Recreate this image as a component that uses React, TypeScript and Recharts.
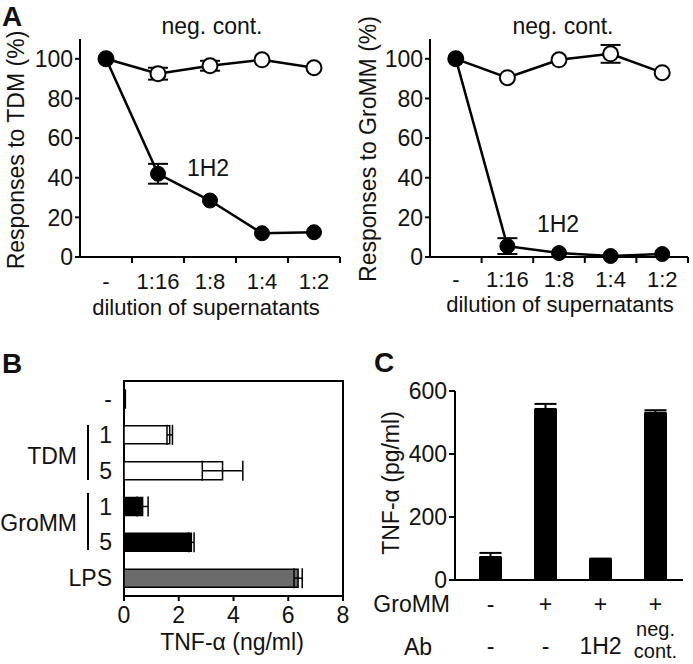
import React from "react";
import {
  Bar,
  BarChart,
  Cell,
  ErrorBar,
  Line,
  LineChart,
  ReferenceArea,
  XAxis,
  YAxis,
} from "recharts";

// A: dilution series (responses in % of control)
const dilutions = ["-", "1:16", "1:8", "1:4", "1:2"];
const tdm1H2 = [100, 42, 28.5, 12, 12.5];
const tdm1H2Err = [0, 5, 0, 0, 0];
const tdmNeg = [100, 92.5, 96.5, 99.5, 95.5];
const tdmNegErr = [0, 3, 2.5, 0, 0];
const gro1H2 = [100, 5.5, 2, 0.5, 1.5];
const gro1H2Err = [0, 4, 0, 0, 0];
const groNeg = [100, 90.5, 99.5, 102.5, 93];
const groNegErr = [0, 0, 0, 4.5, 0];
const responseTicks = [0, 20, 40, 60, 80, 100];

// B: TNF-a (ng/ml) per stimulus
const stimRows = ["-", "TDM 1", "TDM 5", "GroMM 1", "GroMM 5", "LPS"];
const stimTickLabels = ["-", "1", "5", "1", "5", "LPS"];
const stimTnf = [0.05, 1.67, 3.6, 0.68, 2.46, 6.36];
const stimTnfErr = [0, 0.1, 0.74, 0.2, 0.1, 0.15];
const stimFill = ["#000", "#fff", "#fff", "#000", "#000", "#6b6b6b"];
const tnfNgTicks = [0, 2, 4, 6, 8];

// C: TNF-a (pg/ml) with antibody
const groMMSigns = ["-", "+", "+", "+"];
const abLabels = ["-", "-", "1H2", "neg. cont."];
const tnfPg = [73, 543, 66, 531];
const tnfPgErr = [13, 16, 2, 8];
const tnfPgTicks = [0, 200, 400, 600];

const FONT = '"Liberation Sans", Arial, Helvetica, sans-serif';
const INK = "#111";
const tickText = { fontSize: 23, fill: INK, fontFamily: FONT };
const axisLine = { stroke: "#000", strokeWidth: 2 };

const tdmData = dilutions.map((d, i) => ({
  x: i + 0.5,
  h2: tdm1H2[i],
  h2Err: tdm1H2Err[i],
  neg: tdmNeg[i],
  negErr: tdmNegErr[i],
}));
const groData = dilutions.map((d, i) => ({
  x: i + 0.5,
  h2: gro1H2[i],
  h2Err: gro1H2Err[i],
  neg: groNeg[i],
  negErr: groNegErr[i],
}));
const stimData = stimRows.map((r, i) => ({
  row: r,
  tnf: stimTnf[i],
  err: stimTnfErr[i],
}));
const abData = abLabels.map((a, i) => ({
  key: `${groMMSigns[i]}|${a}`,
  tnf: tnfPg[i],
  err: [0, tnfPgErr[i]],
}));

function DilutionTick(props: any) {
  const { x, y, payload, band, dy } = props;
  return (
    <text x={x - band / 2} y={y + dy} textAnchor="middle" {...tickText} fontSize={22}>
      {dilutions[payload.value - 1]}
    </text>
  );
}

function AbTick(props: any) {
  const { x, y, index } = props;
  const ab = abLabels[index];
  return (
    <g>
      <text x={x} y={y + 32} textAnchor="middle" {...tickText}>
        {groMMSigns[index]}
      </text>
      {ab === "neg. cont." ? (
        <>
          <text x={x} y={y + 56} textAnchor="middle" {...tickText} fontSize={20}>neg.</text>
          <text x={x} y={y + 78} textAnchor="middle" {...tickText} fontSize={20}>cont.</text>
        </>
      ) : (
        <text x={x} y={y + 74} textAnchor="middle" {...tickText}>{ab}</text>
      )}
    </g>
  );
}

function DilutionChart({ data, width, left, dy }: { data: any[]; width: number; left: number; dy: number }) {
  const plotW = width - left - 5;
  return (
    <LineChart width={width} height={320} data={data} margin={{ top: 39, right: 5, bottom: 0, left: 0 }}>
      <XAxis
        type="number"
        dataKey="x"
        domain={[0, 5]}
        ticks={[1, 2, 3, 4, 5]}
        interval={0}
        height={63}
        axisLine={axisLine}
        tickLine={axisLine}
        tickSize={6}
        tickMargin={0}
        tick={(p: any) => <DilutionTick {...p} band={plotW / 5} dy={dy} />}
      />
      <YAxis
        type="number"
        domain={[0, 110]}
        ticks={responseTicks}
        interval={0}
        width={left}
        axisLine={axisLine}
        tickLine={axisLine}
        tickSize={5}
        tickMargin={2}
        tick={tickText}
      />
      <Line
        dataKey="neg"
        stroke="#000"
        strokeWidth={2.5}
        dot={{ r: 7.5, fill: "#fff", stroke: "#000", strokeWidth: 2 }}
        isAnimationActive={false}
      >
        <ErrorBar dataKey="negErr" direction="y" width={10} stroke="#000" strokeWidth={2} />
      </Line>
      <Line
        dataKey="h2"
        stroke="#000"
        strokeWidth={2.5}
        dot={{ r: 7.5, fill: "#000", stroke: "#000", strokeWidth: 1 }}
        isAnimationActive={false}
      >
        <ErrorBar dataKey="h2Err" direction="y" width={10} stroke="#000" strokeWidth={2} />
      </Line>
    </LineChart>
  );
}

export default function App() {
  const label = { fontFamily: FONT, fill: INK, fontSize: 23 };
  const bold = { fontFamily: FONT, fill: INK, fontSize: 28, fontWeight: 700 };
  return (
    <div style={{ position: "absolute", left: 0, top: 0, width: 693, height: 664, background: "#fff" }}>
      <div style={{ position: "absolute", left: 0, top: 0 }}>
        <DilutionChart data={tdmData} width={345} left={80} dy={26} />
      </div>
      <div style={{ position: "absolute", left: 345, top: 0 }}>
        <DilutionChart data={groData} width={348} left={85} dy={24} />
      </div>

      <div style={{ position: "absolute", left: 0, top: 320 }}>
        <BarChart
          width={350}
          height={344}
          layout="vertical"
          data={stimData}
          margin={{ top: 61, right: 7, bottom: 0, left: 0 }}
        >
          <XAxis
            type="number"
            domain={[0, 8]}
            ticks={tnfNgTicks}
            interval={0}
            height={68}
            axisLine={axisLine}
            tickLine={axisLine}
            tickSize={5}
            tickMargin={6}
            tick={tickText}
          />
          <YAxis
            type="category"
            dataKey="row"
            width={124}
            axisLine={false}
            tickLine={false}
            tickSize={0}
            tickMargin={12}
            interval={0}
            tick={tickText}
            tickFormatter={(v: string) => stimTickLabels[stimRows.indexOf(v)]}
          />
          <ReferenceArea x1={0} x2={8} fill="none" stroke="#000" strokeWidth={2} ifOverflow="visible" />
          <Bar dataKey="tnf" barSize={18} stroke="#000" strokeWidth={1.5} isAnimationActive={false}>
            {stimData.map((d, i) => (
              <Cell key={d.row} fill={stimFill[i]} />
            ))}
            <ErrorBar dataKey="err" direction="x" width={10} stroke="#000" strokeWidth={1.5} />
          </Bar>
        </BarChart>
      </div>

      <div style={{ position: "absolute", left: 350, top: 320 }}>
        <BarChart width={343} height={344} data={abData} margin={{ top: 71, right: 10, bottom: 0, left: 0 }}>
          <XAxis
            dataKey="key"
            type="category"
            height={84}
            padding={{ left: 8, right: 0 }}
            axisLine={axisLine}
            tickLine={false}
            tickSize={0}
            tickMargin={0}
            interval={0}
            tick={(p: any) => <AbTick {...p} />}
          />
          <YAxis
            type="number"
            domain={[0, 600]}
            ticks={tnfPgTicks}
            interval={0}
            width={105}
            axisLine={axisLine}
            tickLine={axisLine}
            tickSize={6}
            tickMargin={2}
            tick={tickText}
          />
          <Bar dataKey="tnf" barSize={23} fill="#000" isAnimationActive={false}>
            <ErrorBar dataKey="err" direction="y" width={11} stroke="#000" strokeWidth={2} />
          </Bar>
        </BarChart>
      </div>

      <svg width={693} height={664} style={{ position: "absolute", left: 0, top: 0, pointerEvents: "none" }}>
        <text x={2} y={26} {...bold}>A</text>
        <text x={212} y={34} textAnchor="middle" {...label}>neg. cont.</text>
        <text x={208} y={176} textAnchor="middle" {...label}>1H2</text>
        <text x={563} y={34} textAnchor="middle" {...label}>neg. cont.</text>
        <text x={558} y={232} textAnchor="middle" {...label}>1H2</text>
        <text transform="translate(24,150) rotate(-90)" textAnchor="middle" {...label}>Responses to TDM (%)</text>
        <text transform="translate(376,149) rotate(-90)" textAnchor="middle" {...label}>Responses to GroMM (%)</text>
        <text x={206} y={315} textAnchor="middle" {...label} fontSize={22}>dilution of supernatants</text>
        <text x={560} y={312} textAnchor="middle" {...label} fontSize={22}>dilution of supernatants</text>

        <text x={2} y={373} {...bold}>B</text>
        <text x={77} y={464} textAnchor="end" {...label}>TDM</text>
        <line x1={88} y1={425} x2={88} y2={480} stroke="#000" strokeWidth={2} />
        <text x={77} y={531} textAnchor="end" {...label}>GroMM</text>
        <line x1={88} y1={493} x2={88} y2={550} stroke="#000" strokeWidth={2} />
        <text x={232} y={650} textAnchor="middle" {...label}>TNF-α (ng/ml)</text>

        <text x={374} y={372} {...bold}>C</text>
        <text transform="translate(399,483) rotate(-90)" textAnchor="middle" {...label}>TNF-α (pg/ml)</text>
        <text x={450} y={612} textAnchor="end" {...label}>GroMM</text>
        <text x={418} y={655} textAnchor="middle" {...label}>Ab</text>
      </svg>
    </div>
  );
}
